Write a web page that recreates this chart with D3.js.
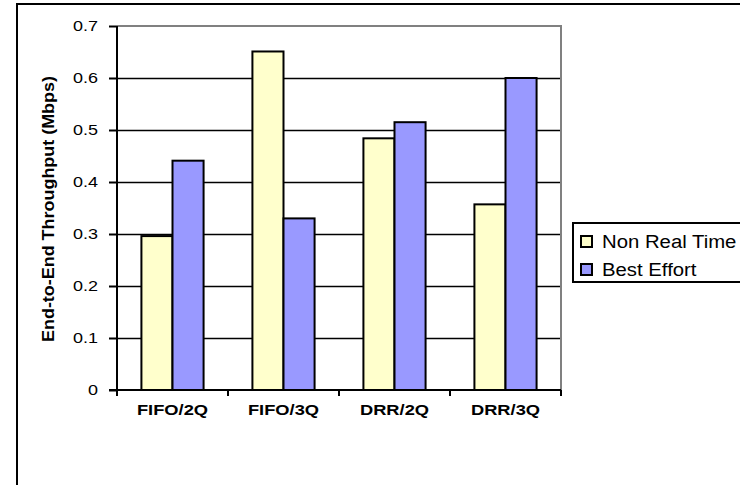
<!DOCTYPE html>
<html>
<head>
<meta charset="utf-8">
<script src="https://cdn.jsdelivr.net/npm/d3@7"></script>
<style>
  body { margin: 0; background: #fff; }
  svg { font-family: "Liberation Sans", Arial, sans-serif; }
  .axis path, .axis line { stroke: #000; stroke-width: 2; }
  .axis text { font-size: 15.5px; fill: #000; }
</style>
</head>
<body>
<div id="chart"></div>
<script>
// chart data
var categories = ["FIFO/2Q", "FIFO/3Q", "DRR/2Q", "DRR/3Q"];
var seriesNames = ["Non Real Time", "Best Effort"];
var nonRealTime = [0.296, 0.651, 0.484, 0.357];
var bestEffort = [0.441, 0.330, 0.515, 0.600];
var yTicks = [0, 0.1, 0.2, 0.3, 0.4, 0.5, 0.6, 0.7];
var colors = ["#ffffcc", "#9999ff"];

// text in the picture is a bit wider than it is tall
var stretch = 1.16;

var outerWidth = 740,
    outerHeight = 485,
    margin = {top: 26, left: 117},
    width = 561 - 117,
    height = 390 - 26;

var svg = d3.select("#chart").append("svg")
    .attr("width", outerWidth)
    .attr("height", outerHeight);

// outer chart border
svg.append("rect")
    .attr("x", 17)
    .attr("y", 4)
    .attr("width", 800)
    .attr("height", 600)
    .attr("fill", "#fff")
    .attr("stroke", "#000")
    .attr("stroke-width", 2);

var g = svg.append("g")
    .attr("transform", "translate(" + margin.left + "," + margin.top + ")");

var x = d3.scaleBand()
    .domain(categories)
    .range([0, width])
    .paddingInner(0.44)
    .paddingOuter(0.22);

var x1 = d3.scaleBand()
    .domain(seriesNames)
    .range([0, x.bandwidth()]);

var y = d3.scaleLinear()
    .domain([0, 0.7])
    .range([height, 0]);

// plot area border (grey top/right)
g.append("path")
    .attr("d", "M0,0H" + width + "V" + height)
    .attr("fill", "none")
    .attr("stroke", "#808080")
    .attr("stroke-width", 2);

// gridlines
g.selectAll(".grid")
    .data(yTicks.filter(function(d){ return d > 0 && d < 0.7; }))
  .enter().append("line")
    .attr("class", "grid")
    .attr("x1", 0)
    .attr("x2", width - 1)
    .attr("y1", function(d){ return Math.round(y(d)) + 0.5; })
    .attr("y2", function(d){ return Math.round(y(d)) + 0.5; })
    .attr("stroke", "#000")
    .attr("stroke-width", 1.5);

// bars
var rows = categories.map(function(c, i){
  return {cat: c, vals: [nonRealTime[i], bestEffort[i]]};
});

var groups = g.selectAll(".group")
    .data(rows)
  .enter().append("g")
    .attr("transform", function(d){ return "translate(" + x(d.cat) + ",0)"; });

groups.selectAll("rect")
    .data(function(d){ return d.vals.map(function(v, j){ return {name: seriesNames[j], v: v, j: j}; }); })
  .enter().append("rect")
    .attr("x", function(d){ return x1(d.name); })
    .attr("y", function(d){ return y(d.v); })
    .attr("width", x1.bandwidth())
    .attr("height", function(d){ return height - y(d.v); })
    .attr("fill", function(d){ return colors[d.j]; })
    .attr("stroke", "#000")
    .attr("stroke-width", 2);

// y axis
var yAxis = d3.axisLeft(y)
    .tickValues(yTicks)
    .tickFormat(function(d){ return d === 0 ? "0" : d3.format(".1f")(d); })
    .tickSize(8)
    .tickPadding(11);

g.append("g")
    .attr("class", "axis")
    .call(yAxis)
    .call(function(s){
      s.select(".domain").attr("d", "M0,0V" + height);
      s.selectAll(".tick text")
          .attr("transform", "translate(-19,0) scale(" + stretch + ",1) translate(19,0)");
    });

// x axis with ticks at band edges
g.append("line")
    .attr("x1", -8).attr("x2", width)
    .attr("y1", height).attr("y2", height)
    .attr("stroke", "#000").attr("stroke-width", 2);

var edges = categories.map(function(c){ return x(c) - x.step() * x.paddingInner() / 2; });
edges.push(width);
g.selectAll(".xtick")
    .data(edges)
  .enter().append("line")
    .attr("x1", function(d){ return d; })
    .attr("x2", function(d){ return d; })
    .attr("y1", height)
    .attr("y2", height + 6)
    .attr("stroke", "#000")
    .attr("stroke-width", 2);

g.selectAll(".xlabel")
    .data(categories)
  .enter().append("text")
    .attr("transform", function(d){
      return "translate(" + (x(d) + x.bandwidth() / 2) + "," + (height + 25) + ") scale(" + (stretch + 0.06) + ",1)";
    })
    .attr("text-anchor", "middle")
    .attr("font-size", "15px")
    .attr("font-weight", "bold")
    .text(function(d){ return d; });

// y axis title
svg.append("text")
    .attr("transform", "translate(54," + 209 + ") rotate(-90)")
    .attr("text-anchor", "middle")
    .attr("font-size", "16.5px")
    .attr("font-weight", "bold")
    .attr("textLength", 266)
    .attr("lengthAdjust", "spacingAndGlyphs")
    .text("End-to-End Throughput (Mbps)");

// legend
var legend = svg.append("g")
    .attr("transform", "translate(573,223)");

legend.append("rect")
    .attr("width", 200)
    .attr("height", 59)
    .attr("fill", "#fff")
    .attr("stroke", "#000")
    .attr("stroke-width", 2);

var items = legend.selectAll(".item")
    .data(seriesNames)
  .enter().append("g")
    .attr("transform", function(d, i){ return "translate(0," + (25 + i * 28) + ")"; });

items.append("rect")
    .attr("x", 8)
    .attr("y", -12)
    .attr("width", 11)
    .attr("height", 11)
    .attr("fill", function(d, i){ return colors[i]; })
    .attr("stroke", "#000")
    .attr("stroke-width", 2);

items.append("text")
    .attr("transform", "translate(29,0) scale(1.13,1)")
    .attr("font-size", "18px")
    .text(function(d){ return d; });
</script>
</body>
</html>
